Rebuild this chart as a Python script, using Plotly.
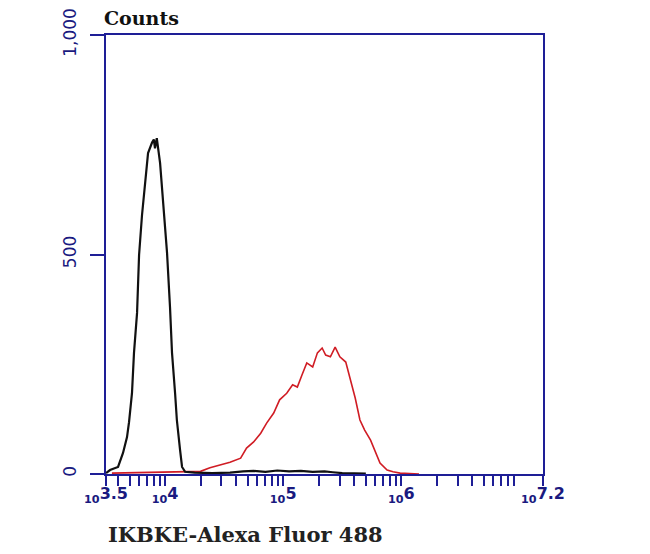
import plotly.graph_objects as go

# Black (control) histogram: log10 fluorescence vs counts
black_logx = [3.50, 3.534, 3.602, 3.644, 3.678, 3.695, 3.72, 3.737, 3.763, 3.78, 3.805, 3.83, 3.856,
              3.89, 3.905, 3.915, 3.93, 3.958, 3.99, 4.017, 4.042, 4.059, 4.085, 4.10, 4.127, 4.144,
              4.17, 4.25, 4.40, 4.55, 4.66, 4.75, 4.85, 4.95, 5.05, 5.15, 5.25, 5.35, 5.42, 5.50, 5.70]
black_counts = [2, 9, 16, 48, 84, 118, 184, 276, 367, 499, 590, 663, 731,
                755, 762, 742, 765, 708, 594, 503, 380, 276, 184, 123, 55, 16,
                5, 3, 2, 3, 6, 7, 5, 8, 6, 7, 5, 6, 4, 2, 1]

# Red (antibody) histogram
red_logx = [3.55, 3.70, 3.85, 4.00, 4.15, 4.30, 4.38, 4.47, 4.55, 4.64, 4.69, 4.75, 4.81, 4.86, 4.92,
            4.97, 5.03, 5.08, 5.12, 5.16, 5.20, 5.25, 5.29, 5.33, 5.36, 5.40, 5.44, 5.48,
            5.53, 5.57, 5.61, 5.65, 5.69, 5.74, 5.78, 5.82, 5.88, 5.93, 5.99, 6.08, 6.15]
red_counts = [2, 3, 3, 4, 5, 6, 14, 20, 27, 36, 59, 73, 93, 116, 139,
              169, 184, 203, 198, 226, 253, 244, 276, 287, 271, 267, 289, 267,
              255, 214, 173, 123, 100, 77, 50, 25, 9, 5, 2, 1, 0]

x_tickvals_log = [3.5, 4, 5, 6, 7.2]
x_ticktext = ["<sub>10</sub>3.5", "<sub>10</sub>4", "<sub>10</sub>5", "<sub>10</sub>6", "<sub>10</sub>7.2"]
y_tickvals = [0, 500, 1000]
y_ticktext = ["0", "500", "1,000"]

navy = "#1e1e96"
label_navy = "#1a1a80"

fig = go.Figure()
fig.add_trace(go.Scatter(x=[10 ** v for v in red_logx], y=red_counts, mode="lines",
                         line=dict(color="#d01c24", width=1.6), showlegend=False))
fig.add_trace(go.Scatter(x=[10 ** v for v in black_logx], y=black_counts, mode="lines",
                         line=dict(color="#111111", width=2.2), showlegend=False))

minor_vals = []
for d in [3, 4, 5, 6, 7]:
    for m in range(2, 10):
        v = m * 10 ** d
        if 10 ** 3.5 < v < 10 ** 7.2:
            minor_vals.append(v)

fig.update_xaxes(type="log", range=[3.5, 7.2], automargin=False,
                 tickvals=[10 ** v for v in x_tickvals_log], ticktext=x_ticktext,
                 ticks="outside", ticklen=10, tickwidth=2, tickcolor=navy,
                 showline=True, linecolor=navy, linewidth=2, mirror=True,
                 showgrid=False, zeroline=False, ticklabelstandoff=-6,
                 ticklabeloverflow="allow",
                 tickfont=dict(family="DejaVu Sans", size=16, color=label_navy, weight="bold"),
                 minor=dict(tickvals=minor_vals, ticks="outside", ticklen=10, tickwidth=2,
                            tickcolor=navy, showgrid=False))
fig.update_yaxes(range=[0, 1000], tickvals=y_tickvals, ticktext=y_ticktext, automargin=False,
                 ticks="outside", ticklen=14, tickwidth=2, tickcolor=navy,
                 showline=True, linecolor=navy, linewidth=2, mirror=True,
                 showgrid=False, zeroline=False, tickangle=-90, ticklabelstandoff=7,
                 ticklabeloverflow="allow",
                 tickfont=dict(family="DejaVu Sans", size=17, color=label_navy))

fig.add_annotation(text="<b>Counts</b>", xref="paper", yref="paper", x=0, y=1, xanchor="left",
                   yanchor="bottom", xshift=-4, yshift=4, showarrow=False,
                   font=dict(family="DejaVu Serif", size=19, color="#111111"))
fig.add_annotation(text="<b>IKBKE-Alexa Fluor 488</b>", xref="paper", yref="paper", x=0, y=0,
                   xanchor="left", yanchor="top", xshift=0, yshift=-46, showarrow=False,
                   font=dict(family="DejaVu Serif", size=21, color="#222222"))

fig.update_layout(width=650, height=554, paper_bgcolor="white", plot_bgcolor="white",
                  margin=dict(l=98, r=115, t=27, b=88, autoexpand=False), showlegend=False)

fig.write_html("out.html")
